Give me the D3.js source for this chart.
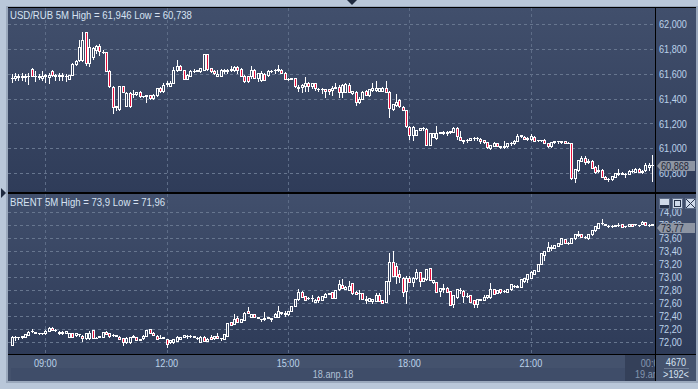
<!DOCTYPE html>
<html>
<head>
<meta charset="utf-8">
<script src="https://cdn.jsdelivr.net/npm/d3@7"></script>
<style>
    html, body { margin: 0; padding: 0; background: #b9c7d9; overflow: hidden; }
    svg { display: block; }
</style>
</head>
<body>
<div id="chart"></div>
<script>
// candles are [open, high, low, close], one every 5 minutes from 08:10
const usdRubCandles = [
    [61.57,61.60,61.535,61.565],[61.57,61.605,61.55,61.58],[61.58,61.60,61.55,61.575],[61.575,61.605,61.55,61.58],[61.575,61.60,61.545,61.58],
    [61.58,61.61,61.52,61.585],[61.64,61.65,61.58,61.585],[61.58,61.625,61.54,61.585],[61.575,61.60,61.555,61.58],[61.57,61.625,61.55,61.585],
    [61.58,61.60,61.535,61.59],[61.575,61.61,61.53,61.595],[61.62,61.635,61.585,61.59],[61.585,61.60,61.55,61.59],[61.58,61.61,61.55,61.59],
    [61.585,61.61,61.55,61.59],[61.58,61.60,61.545,61.585],[61.56,61.595,61.555,61.59],[61.59,61.685,61.59,61.68],[61.68,61.715,61.675,61.705],
    [61.71,61.87,61.705,61.815],[61.715,61.94,61.70,61.87],[61.935,61.94,61.67,61.69],[61.69,61.88,61.665,61.815],[61.74,61.82,61.72,61.805],
    [61.795,61.835,61.77,61.825],[61.825,61.84,61.755,61.785],[61.78,61.79,61.765,61.78],[61.775,61.78,61.62,61.625],[61.625,61.63,61.495,61.50],
    [61.495,61.50,61.288,61.335],[61.335,61.345,61.31,61.34],[61.32,61.50,61.31,61.50],[61.50,61.505,61.45,61.45],[61.345,61.45,61.34,61.445],
    [61.445,61.45,61.335,61.345],[61.435,61.47,61.415,61.44],[61.44,61.455,61.43,61.45],[61.455,61.46,61.415,61.42],[61.42,61.425,61.415,61.425],
    [61.425,61.43,61.37,61.43],[61.43,61.43,61.40,61.405],[61.405,61.435,61.40,61.43],[61.43,61.49,61.425,61.485],[61.485,61.495,61.455,61.46],
    [61.465,61.53,61.45,61.51],[61.52,61.54,61.505,61.525],[61.505,61.54,61.50,61.53],[61.53,61.655,61.525,61.635],[61.63,61.715,61.625,61.66],
    [61.66,61.67,61.63,61.635],[61.63,61.635,61.555,61.56],[61.56,61.60,61.555,61.59],[61.585,61.63,61.58,61.625],[61.625,61.64,61.615,61.625],
    [61.625,61.635,61.62,61.63],[61.62,61.65,61.615,61.645],[61.635,61.76,61.63,61.76],[61.76,61.76,61.635,61.64],[61.645,61.65,61.615,61.62],
    [61.625,61.63,61.60,61.605],[61.585,61.63,61.58,61.60],[61.58,61.64,61.58,61.635],[61.62,61.64,61.61,61.635],[61.62,61.64,61.61,61.63],
    [61.635,61.66,61.62,61.64],[61.63,61.66,61.625,61.655],[61.655,61.66,61.61,61.63],[61.64,61.645,61.58,61.585],[61.585,61.59,61.535,61.54],
    [61.58,61.585,61.535,61.54],[61.58,61.665,61.565,61.635],[61.63,61.64,61.565,61.565],[61.565,61.61,61.545,61.605],[61.55,61.62,61.545,61.61],
    [61.60,61.61,61.55,61.55],[61.59,61.63,61.585,61.625],[61.62,61.63,61.615,61.625],[61.63,61.64,61.61,61.635],[61.63,61.67,61.625,61.64],
    [61.63,61.64,61.61,61.61],[61.61,61.615,61.555,61.56],[61.56,61.565,61.55,61.56],[61.56,61.565,61.555,61.565],[61.565,61.565,61.495,61.50],
    [61.49,61.51,61.465,61.495],[61.495,61.515,61.45,61.51],[61.505,61.575,61.465,61.53],[61.53,61.535,61.465,61.505],[61.505,61.53,61.49,61.525],
    [61.525,61.53,61.47,61.485],[61.475,61.485,61.46,61.48],[61.475,61.485,61.445,61.48],[61.475,61.48,61.41,61.46],[61.475,61.48,61.44,61.46],
    [61.47,61.50,61.43,61.49],[61.49,61.53,61.485,61.495],[61.495,61.51,61.415,61.45],[61.45,61.52,61.41,61.51],[61.455,61.525,61.45,61.515],
    [61.51,61.525,61.45,61.455],[61.445,61.465,61.44,61.46],[61.455,61.46,61.35,61.375],[61.375,61.41,61.365,61.40],[61.40,61.465,61.395,61.455],
    [61.46,61.47,61.43,61.43],[61.43,61.48,61.425,61.475],[61.47,61.53,61.465,61.485],[61.47,61.54,61.465,61.485],[61.465,61.49,61.46,61.49],
    [61.465,61.495,61.46,61.49],[61.49,61.545,61.455,61.455],[61.455,61.46,61.255,61.325],[61.32,61.36,61.31,61.36],[61.35,61.44,61.345,61.375],
    [61.39,61.40,61.335,61.34],[61.335,61.34,61.31,61.31],[61.31,61.31,61.175,61.18],[61.175,61.18,61.075,61.105],[61.105,61.18,61.07,61.175],
    [61.11,61.15,61.105,61.15],[61.15,61.165,61.145,61.16],[61.16,61.17,61.15,61.165],[61.155,61.165,61.025,61.03],[61.03,61.125,61.025,61.12],
    [61.095,61.125,61.09,61.12],[61.08,61.18,61.075,61.125],[61.125,61.135,61.12,61.13],[61.12,61.14,61.115,61.135],[61.135,61.14,61.11,61.12],
    [61.13,61.14,61.125,61.14],[61.135,61.17,61.13,61.165],[61.165,61.175,61.075,61.10],[61.095,61.14,61.065,61.07],[61.06,61.07,61.04,61.065],
    [61.065,61.075,61.05,61.07],[61.07,61.085,61.065,61.08],[61.08,61.09,61.07,61.08],[61.08,61.09,61.065,61.085],[61.075,61.08,61.04,61.06],
    [61.065,61.07,61.045,61.05],[61.05,61.05,61.005,61.01],[61.005,61.03,60.995,61.025],[61.02,61.05,61.015,61.045],[61.04,61.045,61.02,61.02],
    [61.02,61.02,61.005,61.01],[61.02,61.055,61.0,61.01],[61.015,61.045,61.01,61.04],[61.04,61.05,61.03,61.045],[61.04,61.065,61.035,61.06],
    [61.06,61.115,61.055,61.10],[61.10,61.11,61.09,61.105],[61.095,61.10,61.075,61.075],[61.075,61.09,61.07,61.08],[61.075,61.115,61.07,61.10],
    [61.095,61.10,61.06,61.06],[61.065,61.07,61.06,61.07],[61.065,61.07,61.055,61.07],[61.07,61.075,61.04,61.04],[61.04,61.04,61.01,61.02],
    [61.015,61.05,61.01,61.05],[61.05,61.06,61.04,61.055],[61.055,61.06,61.045,61.055],[61.05,61.06,61.04,61.055],[61.055,61.06,61.04,61.04],
    [61.045,61.05,61.04,61.045],[61.04,61.045,60.755,60.76],[60.76,60.83,60.73,60.83],[60.825,60.905,60.82,60.905],[60.90,60.94,60.895,60.92],
    [60.92,60.935,60.875,60.89],[60.89,60.91,60.885,60.90],[60.90,60.905,60.845,60.845],[60.85,60.855,60.80,60.805],[60.82,60.865,60.81,60.825],
    [60.825,60.83,60.77,60.77],[60.77,60.775,60.75,60.75],[60.75,60.76,60.735,60.755],[60.75,60.78,60.745,60.775],[60.77,60.80,60.765,60.80],
    [60.795,60.83,60.785,60.80],[60.795,60.805,60.79,60.80],[60.79,60.80,60.77,60.795],[60.795,60.825,60.79,60.82],[60.82,60.83,60.81,60.82],
    [60.81,60.845,60.805,60.835],[60.835,60.84,60.81,60.81],[60.81,60.825,60.80,60.82],[60.825,60.885,60.82,60.865],[60.85,60.885,60.825,60.865],
    [60.865,60.946,60.738,60.868]
];
const brentCandles = [
    [71.96,72.09,71.96,72.085],[72.085,72.09,72.035,72.085],[72.075,72.085,72.05,72.08],[72.08,72.095,72.07,72.09],[72.085,72.13,72.08,72.125],
    [72.115,72.17,72.11,72.165],[72.17,72.2,72.165,72.175],[72.15,72.16,72.145,72.155],[72.14,72.15,72.135,72.145],[72.14,72.15,72.13,72.14],
    [72.14,72.185,72.135,72.18],[72.175,72.23,72.17,72.225],[72.225,72.23,72.19,72.19],[72.19,72.2,72.18,72.195],[72.14,72.17,72.135,72.165],
    [72.14,72.17,72.135,72.165],[72.15,72.18,72.145,72.175],[72.08,72.15,72.075,72.15],[72.14,72.145,72.075,72.08],[72.105,72.15,72.1,72.14],
    [72.12,72.135,72.1,72.125],[72.1,72.105,72.025,72.06],[72.06,72.14,72.055,72.14],[72.06,72.17,72.05,72.15],[72.19,72.195,72.07,72.07],
    [72.07,72.075,72.06,72.07],[72.085,72.09,72.08,72.09],[72.085,72.165,72.08,72.155],[72.165,72.17,72.12,72.125],[72.14,72.145,72.085,72.09],
    [72.11,72.12,72.1,72.115],[72.1,72.11,72.09,72.105],[72.085,72.09,72.05,72.05],[72.06,72.065,71.96,72.01],[72.0,72.075,71.995,72.07],
    [72.0,72.08,71.995,72.075],[72.085,72.115,72.08,72.09],[72.075,72.08,72.035,72.035],[72.04,72.05,72.03,72.045],[72.06,72.105,72.055,72.1],
    [72.1,72.195,72.095,72.19],[72.2,72.21,72.14,72.14],[72.15,72.155,72.115,72.115],[72.1,72.105,72.05,72.05],[72.065,72.115,72.06,72.07],
    [72.07,72.08,72.06,72.075],[72.05,72.055,71.93,71.97],[72.0,72.04,71.995,72.03],[72.0,72.055,71.995,72.05],[72.02,72.09,72.015,72.085],
    [72.05,72.08,72.045,72.075],[72.085,72.115,72.08,72.11],[72.095,72.105,72.06,72.1],[72.095,72.105,72.085,72.1],[72.08,72.1,72.075,72.095],
    [72.065,72.08,72.05,72.07],[72.01,72.09,72.005,72.085],[72.085,72.09,72.02,72.02],[72.025,72.06,72.02,72.055],[72.075,72.11,72.045,72.045],
    [72.06,72.1,72.055,72.095],[72.1,72.15,72.07,72.07],[72.06,72.065,72.04,72.065],[72.05,72.13,72.045,72.125],[72.1,72.29,72.095,72.29],
    [72.305,72.31,72.265,72.265],[72.28,72.435,72.275,72.355],[72.37,72.405,72.305,72.305],[72.32,72.36,72.315,72.355],[72.345,72.46,72.34,72.455],
    [72.48,72.54,72.445,72.445],[72.395,72.435,72.39,72.43],[72.43,72.44,72.385,72.385],[72.38,72.395,72.37,72.385],[72.355,72.365,72.335,72.36],
    [72.365,72.46,72.345,72.37],[72.38,72.39,72.37,72.385],[72.365,72.375,72.33,72.37],[72.395,72.455,72.39,72.435],[72.395,72.56,72.39,72.48],
    [72.455,72.47,72.44,72.46],[72.44,72.48,72.41,72.445],[72.43,72.485,72.425,72.485],[72.485,72.56,72.48,72.56],[72.56,72.665,72.555,72.665],
    [72.665,72.815,72.65,72.77],[72.78,72.79,72.7,72.7],[72.715,72.72,72.65,72.65],[72.68,72.7,72.665,72.685],[72.68,72.73,72.64,72.685],
    [72.625,72.66,72.62,72.655],[72.7,72.705,72.615,72.65],[72.65,72.715,72.645,72.71],[72.695,72.755,72.69,72.75],[72.745,72.765,72.74,72.76],
    [72.77,72.775,72.685,72.685],[72.685,72.805,72.68,72.805],[72.815,72.96,72.81,72.895],[72.875,72.97,72.84,72.84],[72.82,72.86,72.815,72.855],
    [72.805,72.95,72.8,72.87],[72.905,72.915,72.745,72.755],[72.78,72.785,72.745,72.745],[72.76,72.805,72.665,72.765],[72.755,72.76,72.665,72.665],
    [72.655,72.71,72.6,72.66],[72.635,72.685,72.63,72.685],[72.64,72.665,72.61,72.66],[72.635,72.755,72.63,72.73],[72.73,72.755,72.635,72.635],
    [72.65,72.655,72.61,72.61],[72.625,72.945,72.62,72.945],[72.945,73.38,72.745,73.24],[73.24,73.41,73.02,73.02],[73.175,73.215,72.905,73.02],
    [73.05,73.115,72.935,73.0],[72.985,73.0,72.72,72.78],[72.795,73.02,72.6,72.995],[72.995,73.02,72.92,72.92],[72.935,73.0,72.865,72.995],
    [72.985,73.125,72.98,73.075],[73.075,73.08,72.865,72.945],[72.945,72.99,72.94,72.985],[72.97,73.135,72.965,73.13],[73.14,73.15,72.96,72.96],
    [72.92,72.96,72.915,72.96],[72.92,72.925,72.77,72.77],[72.795,72.83,72.705,72.83],[72.825,72.89,72.78,72.83],[72.84,72.845,72.78,72.78],
    [72.79,72.795,72.575,72.575],[72.59,72.73,72.55,72.73],[72.69,72.815,72.685,72.815],[72.8,72.84,72.765,72.805],[72.795,72.8,72.625,72.72],
    [72.715,72.755,72.69,72.72],[72.73,72.735,72.625,72.625],[72.65,72.655,72.55,72.585],[72.585,72.665,72.55,72.665],[72.655,72.67,72.645,72.66],
    [72.65,72.73,72.645,72.69],[72.69,72.73,72.685,72.73],[72.69,72.905,72.685,72.82],[72.82,72.825,72.745,72.745],[72.765,72.805,72.76,72.805],
    [72.815,72.82,72.755,72.78],[72.79,72.805,72.78,72.795],[72.78,72.82,72.775,72.815],[72.815,72.89,72.81,72.89],[72.86,72.875,72.855,72.865],
    [72.85,72.875,72.845,72.87],[72.855,72.975,72.85,72.975],[72.945,72.995,72.925,72.995],[72.975,73.05,72.925,73.05],[72.995,73.09,72.99,73.085],
    [73.05,73.115,73.045,73.11],[73.1,73.205,73.095,73.205],[73.205,73.37,73.2,73.37],[73.345,73.41,73.265,73.41],[73.41,73.54,73.405,73.46],
    [73.455,73.495,73.42,73.46],[73.455,73.5,73.45,73.495],[73.485,73.535,73.48,73.53],[73.52,73.6,73.515,73.6],[73.585,73.595,73.53,73.53],
    [73.53,73.54,73.515,73.535],[73.53,73.6,73.525,73.6],[73.6,73.665,73.595,73.66],[73.655,73.71,73.64,73.66],[73.66,73.665,73.625,73.625],
    [73.62,73.63,73.605,73.625],[73.6,73.665,73.595,73.66],[73.66,73.73,73.655,73.725],[73.725,73.79,73.72,73.79],[73.765,73.835,73.76,73.83],
    [73.835,73.9,73.825,73.84],[73.81,73.825,73.8,73.815],[73.79,73.81,73.77,73.795],[73.79,73.805,73.77,73.795],[73.795,73.805,73.79,73.8],
    [73.8,73.84,73.795,73.805],[73.815,73.82,73.77,73.77],[73.785,73.795,73.78,73.79],[73.795,73.825,73.79,73.82],[73.82,73.825,73.795,73.795],
    [73.815,73.825,73.81,73.82],[73.8,73.81,73.79,73.805],[73.82,73.86,73.815,73.855],[73.845,73.85,73.805,73.805],[73.8,73.815,73.785,73.805],
    [73.81,73.815,73.805,73.815]
];

const usdTicks = [62.0, 61.8, 61.6, 61.4, 61.2, 61.0, 60.8];
const brentTicks = [74.0, 73.8, 73.6, 73.4, 73.2, 73.0, 72.8, 72.6, 72.4, 72.2, 72.0];
const timeIndexes = [10, 46, 82, 118, 154, 190];
const timeLabels = ["09:00", "12:00", "15:00", "18:00", "21:00", "00:00"];

const usdTitle = "USD/RUB 5M High = 61,946 Low = 60,738";
const brentTitle = "BRENT 5M High = 73,9 Low = 71,96";
const usdLast = 60.868;
const brentLast = 73.77;
const dayLabels = ["18.anp.18", "19.anp.18"];

const width = 698, height = 389;
const FONT = "Liberation Sans";
const TEXT_SQUEEZE = 0.83, TITLE_SQUEEZE = 0.87;
const LEFT = 8, AXIS_X = 655, RIGHT = 696;
const PANEL_1 = { top: 8, bottom: 192, titleY: 18.5 };
const PANEL_2 = { top: 194, bottom: 354, titleY: 205.5 };
const BOTTOM = 381;
const TEXT = "#d6e2f2", TICK = "#bcd2ea";

const svg = d3.select("#chart").append("svg")
    .attr("width", width)
    .attr("height", height)
    .style("font-family", FONT);
const defs = svg.append("defs");

// --------------- Frame --------------- //

svg.append("rect").attr("width", width).attr("height", height).attr("fill", "#b9c7d9");
svg.append("rect").attr("x", 6).attr("y", 6).attr("width", RIGHT - 4).attr("height", BOTTOM - 4)
    .attr("fill", "#9aa8bc");

const grad = (id, a, b) => {
    const g = defs.append("linearGradient").attr("id", id).attr("x1", 0).attr("x2", 0).attr("y1", 0).attr("y2", 1);
    g.append("stop").attr("offset", 0).attr("stop-color", a);
    g.append("stop").attr("offset", 1).attr("stop-color", b);
};
grad("panel1", "#414f6c", "#2f3c59");
grad("panel2", "#414f6c", "#2e3b58");

svg.append("rect").attr("x", LEFT).attr("y", 7).attr("width", RIGHT - LEFT).attr("height", BOTTOM - 7).attr("fill", "#000");

// x positions are shared by both panels
const x = d3.scaleLinear().domain([0, usdRubCandles.length - 1]).range([11.6, 652.2]);

// --------------- Panels --------------- //

const drawPanel = (panel, gradId, yScale, ticks, fmt, candles, title, last, lastFmt) => {
    const g = svg.append("g");
    g.append("rect")
        .attr("x", LEFT).attr("y", panel.top)
        .attr("width", RIGHT - LEFT).attr("height", panel.bottom - panel.top)
        .attr("fill", `url(#${gradId})`);

    // grid
    g.selectAll("line.h").data(ticks).join("line").attr("class", "h")
        .attr("x1", LEFT).attr("x2", AXIS_X)
        .attr("y1", (d) => Math.round(yScale(d)) + 0.5).attr("y2", (d) => Math.round(yScale(d)) + 0.5)
        .attr("stroke", "#67768f").attr("stroke-dasharray", "3,3");
    g.selectAll("line.v").data(timeIndexes.slice(0, 5)).join("line").attr("class", "v")
        .attr("x1", (d) => Math.round(x(d)) + 0.5).attr("x2", (d) => Math.round(x(d)) + 0.5)
        .attr("y1", panel.top).attr("y2", panel.bottom)
        .attr("stroke", "#5d6c87").attr("stroke-dasharray", "3,3");

    // candles
    const c = g.append("g").attr("shape-rendering", "crispEdges");
    candles.forEach((d, i) => {
        const [o, h, l, cl] = d;
        const px = Math.round(x(i));
        const top = Math.round(yScale(Math.max(o, cl)));
        const bottom = Math.round(yScale(Math.min(o, cl)));
        const down = cl < o;
        c.append("line")
            .attr("x1", px + 0.5).attr("x2", px + 0.5)
            .attr("y1", Math.round(yScale(h))).attr("y2", Math.round(yScale(l)) + 1)
            .attr("stroke", "#fff");
        if (bottom - top < 1) {
            c.append("line")
                .attr("x1", px - 1).attr("x2", px + 2)
                .attr("y1", top + 0.5).attr("y2", top + 0.5)
                .attr("stroke", "#fff");
        } else {
            c.append("rect")
                .attr("x", px - 0.5).attr("y", top + 0.5)
                .attr("width", 2).attr("height", bottom - top)
                .attr("fill", down ? "#e5103c" : "#35425f")
                .attr("stroke", "#fff");
        }
    });

    // axis
    const axis = d3.axisRight(yScale).tickValues(ticks).tickFormat(fmt).tickSize(0).tickPadding(4);
    const axG = g.append("g").attr("transform", `translate(${AXIS_X},0)`).call(axis);
    axG.select(".domain").remove();
    axG.selectAll("text").attr("fill", TICK).attr("font-size", 11).attr("font-family", FONT);

    // title
    g.append("text").attr("class", "title").attr("x", 10).attr("y", panel.titleY)
        .attr("fill", TEXT).attr("font-size", 11).text(title);

    // last price tag
    const ly = Math.round(yScale(last));
    g.append("path")
        .attr("d", d3.line()([[657, ly + 1], [661, ly - 4], [695, ly - 4], [695, ly + 6], [661, ly + 6]]) + "Z")
        .attr("fill", "#8d95a3");
    g.append("text").attr("x", 661).attr("y", ly + 5)
        .attr("fill", "#1d2638").attr("font-size", 11).text(lastFmt(last));
};

const comma = (digits) => (v) => v.toFixed(digits).replace(".", ",");

const yUsd = d3.scaleLinear().domain([60.8, 62.0]).range([173.1, 24.3]);
const yBrent = d3.scaleLinear().domain([72.0, 74.0]).range([342.3, 212.3]);

drawPanel(PANEL_1, "panel1", yUsd, usdTicks, comma(3), usdRubCandles, usdTitle, usdLast, comma(3));
drawPanel(PANEL_2, "panel2", yBrent, brentTicks, comma(2), brentCandles, brentTitle, brentLast, comma(2));

// vertical divider between plot and price axis
svg.append("rect").attr("x", AXIS_X).attr("y", 7).attr("width", 1).attr("height", BOTTOM - 7).attr("fill", "#000");

// --------------- Time axis --------------- //

const timeArea = svg.append("g");
timeArea.append("rect").attr("x", LEFT).attr("y", 355).attr("width", RIGHT - LEFT).attr("height", BOTTOM - 355).attr("fill", "#44526d");
timeArea.append("rect").attr("x", 11).attr("y", 368).attr("width", 614).attr("height", BOTTOM - 368).attr("fill", "#3f4d69");
timeArea.append("rect").attr("x", 625).attr("y", 355).attr("width", AXIS_X - 625).attr("height", BOTTOM - 355).attr("fill", "#344059");
timeArea.append("rect").attr("x", AXIS_X).attr("y", 355).attr("width", 1).attr("height", BOTTOM - 355).attr("fill", "#000");

defs.append("clipPath").attr("id", "timeClip").append("rect")
    .attr("x", LEFT).attr("y", 355).attr("width", AXIS_X - LEFT).attr("height", BOTTOM - 355);

const timeTexts = timeArea.append("g").attr("clip-path", "url(#timeClip)").attr("font-size", 11).attr("text-anchor", "middle");
timeTexts.selectAll("text.t").data(timeIndexes).join("text").attr("class", "t")
    .attr("x", (d) => x(d)).attr("y", 367)
    .attr("fill", (d, i) => (i === 5 ? "#8496b0" : TICK))
    .text((d, i) => timeLabels[i]);
timeTexts.append("text").attr("x", 333).attr("y", 378).attr("fill", "#b0c0d6").text(dayLabels[0]);
timeTexts.append("text").attr("x", 635).attr("y", 378).attr("text-anchor", "start").attr("fill", "#8496b0").text(dayLabels[1]);

// counters in the corner
timeArea.append("text").attr("x", 676).attr("y", 366).attr("text-anchor", "middle").attr("font-size", 11).attr("fill", TEXT).text("4670");
timeArea.append("rect").attr("x", 664).attr("y", 368).attr("width", 25).attr("height", 1).attr("fill", "#6b7a92");
timeArea.append("text").attr("x", 676).attr("y", 378).attr("text-anchor", "middle").attr("font-size", 11).attr("fill", TEXT).text(">192<");

// --------------- Window controls --------------- //

const buttons = svg.append("g").attr("shape-rendering", "crispEdges");
[659, 672, 685].forEach((bx, i) => {
    buttons.append("rect").attr("x", bx + 0.5).attr("y", 198.5).attr("width", 10).attr("height", 10)
        .attr("fill", "#cfdaea").attr("stroke", "#5d6c87");
    if (i === 0) buttons.append("rect").attr("x", bx + 1).attr("y", 205).attr("width", 9).attr("height", 3).attr("fill", "#26324a");
    if (i === 1) buttons.append("rect").attr("x", bx + 2.5).attr("y", 200.5).attr("width", 6).attr("height", 6).attr("fill", "none").attr("stroke", "#26324a");
    if (i === 2) {
        buttons.append("path").attr("d", `M${bx + 1},199 L${bx + 10},208 M${bx + 10},199 L${bx + 1},208`)
            .attr("stroke", "#26324a").attr("shape-rendering", "auto");
    }
});

// --------------- Splitter arrows --------------- //

svg.append("path").attr("d", d3.line()([[347, 0], [357, 0], [352, 5]]) + "Z").attr("fill", "#1f2a3f");
svg.append("path").attr("d", d3.line()([[1, 188], [6, 193], [1, 198]]) + "Z").attr("fill", "#1f2a3f");

// The original font is narrower than anything installed, so squeeze the glyphs
svg.selectAll("text").each(function () {
    const w = this.getComputedTextLength();
    const k = this.getAttribute("class") === "title" ? TITLE_SQUEEZE : TEXT_SQUEEZE;
    d3.select(this).attr("textLength", w * k).attr("lengthAdjust", "spacingAndGlyphs");
});
</script>
</body>
</html>
